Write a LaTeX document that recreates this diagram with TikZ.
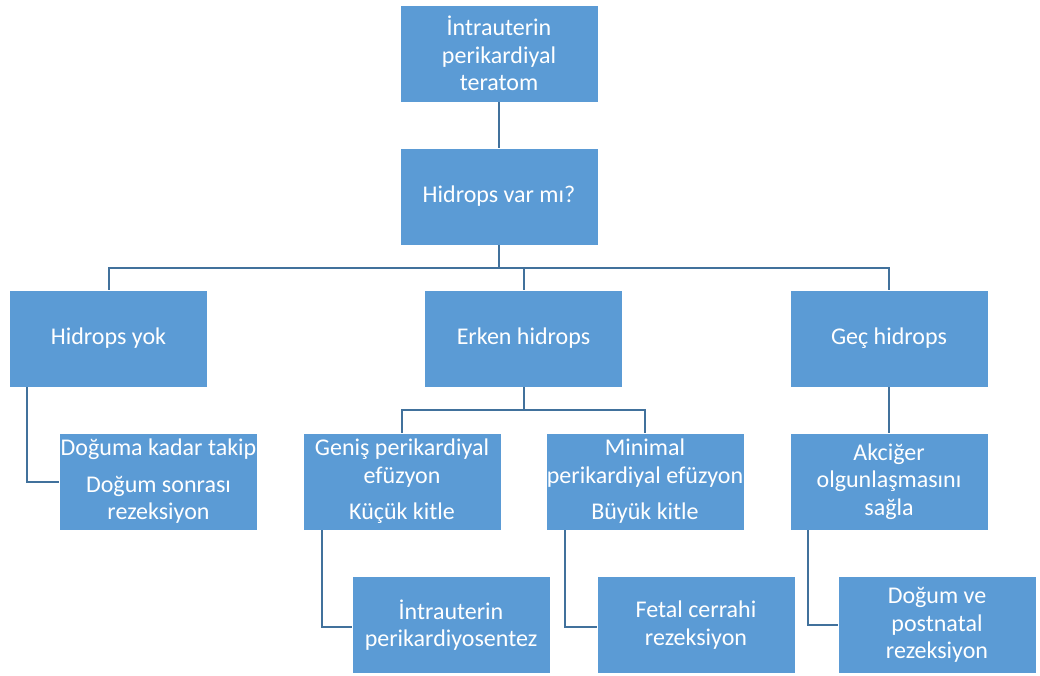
\documentclass[tikz,border=0pt]{standalone}
\usepackage{fontspec}
\setmainfont{Carlito}
\definecolor{boxblue}{HTML}{5B9BD5}
\definecolor{linkblue}{HTML}{41719C}
\begin{document}
\begin{tikzpicture}[x=1pt,y=-1pt,
    box/.style={draw=white,fill=boxblue,text=white,minimum width=198pt,minimum height=97pt,
      inner sep=0pt,align=center,font=\fontsize{24}{27.5}\selectfont},
    link/.style={draw=linkblue,line width=2pt}]
      \useasboundingbox (0,0) rectangle (1040,675);
      \draw
        (499,53.5) node[box] (teratom){İntrauterin\\perikardiyal\\teratom}
        (499,196.5) node[box] (var){Hidrops var mı?}
        (108.5,338.5) node[box] (yok){Hidrops yok}
        (523.5,338.5) node[box] (erken){Erken hidrops}
        (889,338.5) node[box] (gec){Geç hidrops}
        (158.5,481.5) node[box] (takip){Doğuma kadar takip\\[9pt]Doğum sonrası\\rezeksiyon}
        (402,481.5) node[box] (genis){Geniş perikardiyal\\efüzyon\\[9pt]Küçük kitle}
        (645,481.5) node[box] (minimal){Minimal\\perikardiyal efüzyon\\[9pt]Büyük kitle}
        (889,481.5) node[box] (akciger){Akciğer\\olgunlaşmasını\\sağla}
        (451,625) node[box] (sentez){İntrauterin\\perikardiyosentez}
        (696,625) node[box] (fetal){Fetal cerrahi\\rezeksiyon}
        (937,625) node[box] (postnatal){Doğum ve\\postnatal\\rezeksiyon};
      \begin{scope}[link]
        \draw (teratom) to (var);
        \draw (var.south) -- ++(0,23) coordinate (bus);
        \draw (yok.north) |- (bus) -| (gec.north);
        \draw (erken.north) -- (erken.north |- bus);
        \draw (erken.south) -- ++(0,23) coordinate (bus2);
        \draw (genis.north) |- (bus2) -| (minimal.north);
        \draw ([xshift=18pt]yok.south west) |- (takip.west);
        \draw (gec) to (akciger);
        \draw ([xshift=19pt]genis.south west) |- ([yshift=-2pt]sentez.west);
        \draw ([xshift=19pt]minimal.south west) |- ([yshift=-2pt]fetal.west);
        \draw ([xshift=18pt]akciger.south west) |- (postnatal.west);
      \end{scope}
    \end{tikzpicture}
\end{document}
